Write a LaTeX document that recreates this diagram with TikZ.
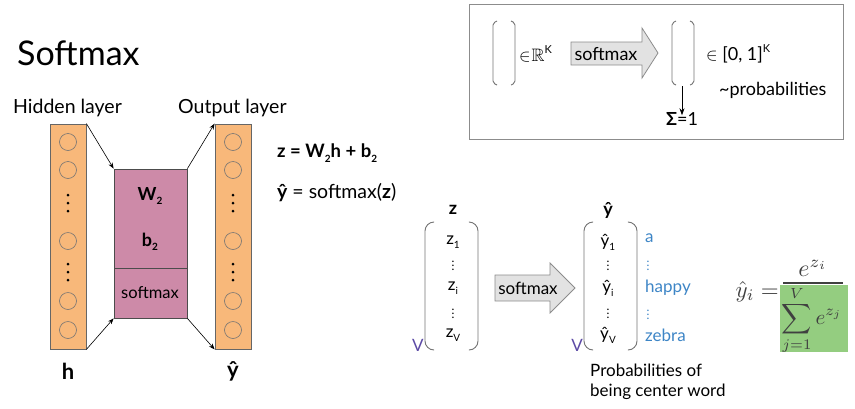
\documentclass[tikz,border=0pt]{standalone}
\usepackage{amsmath,amssymb,graphicx}
\usepackage{fontspec}
\setmainfont{Lato}
\usetikzlibrary{arrows.meta}
\definecolor{orng}{RGB}{248,184,122}
\definecolor{pnk}{RGB}{205,138,168}
\definecolor{grn}{RGB}{148,205,128}
\definecolor{blu}{RGB}{61,133,198}
\definecolor{purp}{RGB}{92,74,165}
\definecolor{agray}{RGB}{226,226,226}
\definecolor{bgray}{RGB}{140,140,140}
\newcommand\lsub[1]{\raisebox{-0.45ex}{\fontsize{10}{10}\selectfont #1}}
\begin{document}
\begin{tikzpicture}[x=1pt,y=-1pt,
  txt/.style={inner sep=0pt, font=\fontsize{18}{20}\selectfont},
  lbl/.style={inner sep=0pt, font=\fontsize{19.5}{22}\selectfont},
  mid/.style={inner sep=0pt, font=\fontsize{17}{20}\selectfont},
  col/.style={draw=black!60, fill=orng, line width=0.8pt, inner sep=0pt},
  neuron/.style={circle, draw=black!55, line width=0.6pt, minimum size=17pt, inner sep=0pt},
  conn/.style={-{Stealth[length=6pt,width=4.5pt]}, line width=0.6pt},
  brk/.style={draw=black!55, line width=0.9pt, rounded corners=2pt},
  par/.style={draw=black!55, line width=0.9pt, rounded corners=9pt},
  bigarrow/.style={draw=bgray, fill=agray, line width=0.8pt, line join=miter},
  vdot/.style={circle, fill=black, inner sep=0pt, minimum size=3pt},
  mth/.style={inner sep=0pt, text=black!75}
]
\useasboundingbox (0,0) rectangle (855,408);

% Title
\node[inner sep=0pt, anchor=base west, font=\fontsize{34}{36}\selectfont] (title) at (17,65) {Softmax};

% layer labels
\node[lbl, anchor=base west] (hl) at (13,113) {Hidden layer};
\node[lbl, anchor=base west] (ol) at (178,113) {Output layer};

% columns
\node[col, minimum width=36pt, minimum height=225pt] (lcol) at (68,236.5) {};
\node[col, minimum width=36pt, minimum height=225pt] (rcol) at (233,236.5) {};
\foreach \y/\n in {142/1,170/2,241/3,301/4,330/5}{
  \node[neuron] (lc\n) at (68,\y) {};
  \node[neuron] (rc\n) at (233,\y) {};
}
\foreach \y/\n in {195/1,203/2,211/3,264/4,272/5,280/6}{
  \node[vdot] (ld\n) at (68,\y) {};
  \node[vdot] (rd\n) at (233,\y) {};
}

% pink box
\node[draw=black!70, fill=pnk, line width=0.8pt, minimum width=73pt, minimum height=99pt, inner sep=0pt] (wb) at (150.5,218.5) {};
\node[draw=black!70, fill=pnk, line width=0.8pt, minimum width=73pt, minimum height=50pt, inner sep=0pt] (sm) at (150.5,293) {};
\node[mid, font=\fontsize{18}{20}\selectfont\bfseries] (w2) at (150,196) {W\lsub{2}};
\node[mid, font=\fontsize{18}{20}\selectfont\bfseries] (b2) at (150,242) {b\lsub{2}};
\node[mid, font=\fontsize{16.5}{20}\selectfont] (smt) at (150,293) {softmax};

% connectors
\draw[conn] (lcol.north east) -- (wb.north west);
\draw[conn] (lcol.south east) -- (sm.south west);
\draw[conn] (wb.north east) -- (rcol.north west);
\draw[conn] (sm.south east) -- (rcol.south west);

\node[inner sep=0pt, font=\fontsize{22}{24}\selectfont\bfseries] (h) at (68,371) {h};
\node[inner sep=0pt, font=\fontsize{22}{24}\selectfont\bfseries] (yh) at (233,371) {ŷ};

% equations
\node[mid, anchor=west, font=\fontsize{18.5}{20}\selectfont\bfseries] (eq1) at (277,153) {z = W\lsub{2}h + b\lsub{2}};
\node[mid, anchor=west, font=\fontsize{19.5}{22}\selectfont] (eq2) at (277,193) {\textbf{ŷ} = softmax(\textbf{z})};

% top-right box
\node[draw=bgray, line width=1pt, minimum width=374pt, minimum height=135pt, inner sep=0pt] (box) at (656,71.5) {};
\draw[brk] (497,21) -- (493,23) -- (493,83) -- (497,85);
\draw[brk] (511,21) -- (515,23) -- (515,83) -- (511,85);
\node[txt, anchor=west] (inR) at (519,54) {$\in$\hspace{1pt}$\mathbb{R}$\raisebox{0.8ex}{\fontsize{11}{11}\selectfont K}};
\draw[bigarrow] (571,42) -- (642,42) -- (642,28) -- (658,53) -- (642,78) -- (642,65) -- (571,65) -- cycle;
\node[txt] (sm1) at (606,54) {softmax};
\draw[brk] (676,21) -- (672,23) -- (672,83) -- (676,85);
\draw[brk] (690,21) -- (694,23) -- (694,83) -- (690,85);
\node[txt, anchor=west] (in01) at (706,54) {$\in$ [0, 1]\raisebox{0.8ex}{\fontsize{11}{11}\selectfont K}};
\node[txt, anchor=west] (prob) at (719,90) {\textasciitilde probabilities};
\coordinate (dtop) at (682,86);
\node[txt] (sig) at (682,119) {\textbf{Σ}=1};
\draw[-{Stealth[length=7pt,width=5pt]}, line width=0.8pt] (dtop) -- ([yshift=-3pt]sig.north -| dtop);

% bottom right vectors
\node[txt, font=\fontsize{18}{20}\selectfont\bfseries] (zh) at (453,210) {z};
\draw[par] (433,222) -- (425,222) -- (425,350) -- (433,350);
\draw[par] (470,222) -- (478,222) -- (478,350) -- (470,350);
\node[mid] (z1) at (453,242) {z\lsub{1}};
\node[inner sep=0pt] (zd1) at (453,263) {\fontsize{12}{12}\selectfont$\vdots$};
\node[mid] (zi) at (453,288) {z\lsub{i}};
\node[inner sep=0pt] (zd2) at (453,311) {\fontsize{12}{12}\selectfont$\vdots$};
\node[mid] (zv) at (453,335) {z\lsub{V}};
\node[mid, text=purp] (v1) at (418,345) {V};

\draw[bigarrow] (495,275) -- (550,275) -- (550,263) -- (575,288) -- (550,313) -- (550,301) -- (495,301) -- cycle;
\node[mid] (sm2) at (528,288) {softmax};

\node[txt, font=\fontsize{18}{20}\selectfont\bfseries] (yhh) at (608,210) {ŷ};
\draw[par] (592,222) -- (584,222) -- (584,350) -- (592,350);
\draw[par] (629,222) -- (637,222) -- (637,350) -- (629,350);
\node[mid] (y1) at (608,242) {ŷ\lsub{1}};
\node[inner sep=0pt] (yd1) at (608,263) {\fontsize{12}{12}\selectfont$\vdots$};
\node[mid] (yi) at (608,288) {ŷ\lsub{i}};
\node[inner sep=0pt] (yd2) at (608,311) {\fontsize{12}{12}\selectfont$\vdots$};
\node[mid] (yv) at (608,335) {ŷ\lsub{V}};
\node[mid, text=purp] (v2) at (577,345) {V};

\node[mid, text=blu, anchor=west] (la) at (645,238) {a};
\node[inner sep=0pt, text=blu] (ld1) at (648,263) {\fontsize{12}{12}\selectfont$\vdots$};
\node[mid, text=blu, anchor=west] (lhappy) at (645,288) {happy};
\node[inner sep=0pt, text=blu] (ld2) at (648,312) {\fontsize{12}{12}\selectfont$\vdots$};
\node[mid, text=blu, anchor=west] (lzebra) at (645,335) {zebra};

\node[mid, anchor=north west, align=left, font=\fontsize{17}{20}\selectfont] (pcw) at (590,364) {Probabilities of\\being center word};

% formula
\node[fill=grn, minimum width=68pt, minimum height=67pt, inner sep=0pt] (den) at (814,318.5) {};
\node[mth] (dent) at (812,320) {\scalebox{2.1}{$\displaystyle\sum_{j=1}^{V} e^{z_j}$}};
\node[mth, anchor=base] (num) at (813,276) {\scalebox{2.4}{$e^{z_i}$}};
\node[mth, anchor=base east] (lhs) at (779,297) {\scalebox{2.3}{$\hat{y}_i =$}};
\coordinate (barL) at (783,283);
\coordinate (barR) at (843,283);
\draw[line width=1.1pt, black!75] (barL) -- (barR);
\end{tikzpicture}
\end{document}
